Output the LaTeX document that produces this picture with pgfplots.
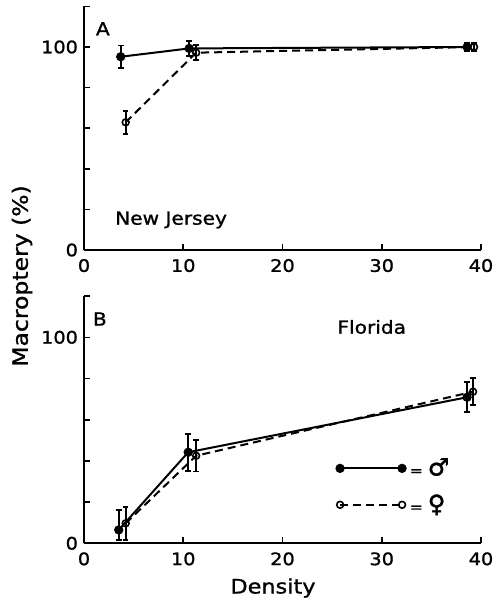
\documentclass[border=0pt]{standalone}
\usepackage{fontspec}
\setmainfont{DejaVu Sans}[FakeStretch=1.12, FakeBold=1.2]
\newfontfamily\symfont{DejaVu Sans}[FakeBold=1.5]
\usepackage{pgfplots}
\pgfplotsset{compat=1.18}
\pgfplotsset{
  panel/.style={
    width=198.5pt, scale only axis,
    xmin=0, xmax=40, ymin=0, ymax=120,
    axis x line=bottom, axis y line=left,
    axis line style={line width=1pt, -},
    xtick={0,10,20,30,40},
    ytick={0,20,40,60,80,100,120},
    yticklabels={0,,,,,100,},
    tick align=inside,
    major tick length=3.2pt,
    tick style={line width=0.8pt, black},
    /pgf/number format/assume math mode=true,
    tick label style={font=\fontsize{8.6}{10}\selectfont},
    yticklabel style={xshift=0.5pt},
    xticklabel style={yshift=-1pt},
    clip=false,
  },
  male/.style={black, line width=1pt, mark=*, mark size=1.8pt,
    error bars/.cd, y dir=both, y explicit,
    error bar style={line width=0.85pt, solid},
    error mark options={rotate=90, mark size=1.4pt, line width=0.85pt, solid}},
  female/.style={black, line width=1pt, dash pattern=on 4pt off 2.5pt,
    mark=o, mark size=1.7pt, mark options={solid, fill=white, line width=0.8pt},
    error bars/.cd, y dir=both, y explicit,
    error bar style={line width=0.85pt, solid},
    error mark options={rotate=90, mark size=1.4pt, line width=0.85pt, solid}},
}
\begin{document}
\begin{tikzpicture}
\useasboundingbox (0pt,0pt) rectangle (247.5pt,301pt);
% Panel A
\begin{axis}[panel, height=121.8pt, at={(42pt,176pt)}, anchor=origin]
\addplot[male] coordinates {
 (3.7,95.2) +- (0,5.5)
 (10.6,99.3) +- (0,3.6)
 (38.6,100) +- (0,2)
};
\addplot[female] coordinates {
 (4.2,62.9) +- (0,5.7)
 (11.3,97.2) +- (0,3.7)
 (39.3,100) +- (0,2)
};
\node[font=\fontsize{9}{10}\selectfont] at (axis cs:1.9,109) {A};
\node[font=\fontsize{9}{10}\selectfont, anchor=west, inner sep=0pt] at (axis cs:3.1,14.8) {New Jersey};
\end{axis}
% Panel B
\begin{axis}[panel, height=123.6pt, at={(42pt,29.35pt)}, anchor=origin,
  legend style={at={(axis cs:25.4,27.5)}, anchor=west, draw=none, fill=none,
    inner sep=0pt, row sep=4pt, font=\fontsize{7}{10}\selectfont},
  legend cell align=left,
  legend image code/.code={\draw[#1] plot coordinates {(0pt,0pt) (31pt,0pt)};}]
\addplot[male] coordinates {
 (3.5,6.5) += (0,9.5) -= (0,5)
 (10.5,44.2) +- (0,9)
 (38.6,70.9) +- (0,7.3)
};
\addlegendentry{= {\symfont\fontsize{12}{12}\selectfont ♂}}
\addplot[female] coordinates {
 (4.2,9.7) +- (0,8)
 (11.3,42.5) +- (0,7.7)
 (39.2,73.6) +- (0,6.5)
};
\addlegendentry{= {\symfont\fontsize{12}{12}\selectfont ♀}}
\node[font=\fontsize{9}{10}\selectfont] at (axis cs:1.6,108.9) {B};
\node[font=\fontsize{9}{10}\selectfont, anchor=west, inner sep=0pt] at (axis cs:25.5,105) {Florida};
\end{axis}
\node[rotate=90, font=\fontsize{10.5}{12}\selectfont] at (11pt,163pt) {Macroptery (\%)};
\node[font=\fontsize{10}{12}\selectfont] at (136.5pt,7pt) {Density};
\end{tikzpicture}
\end{document}
